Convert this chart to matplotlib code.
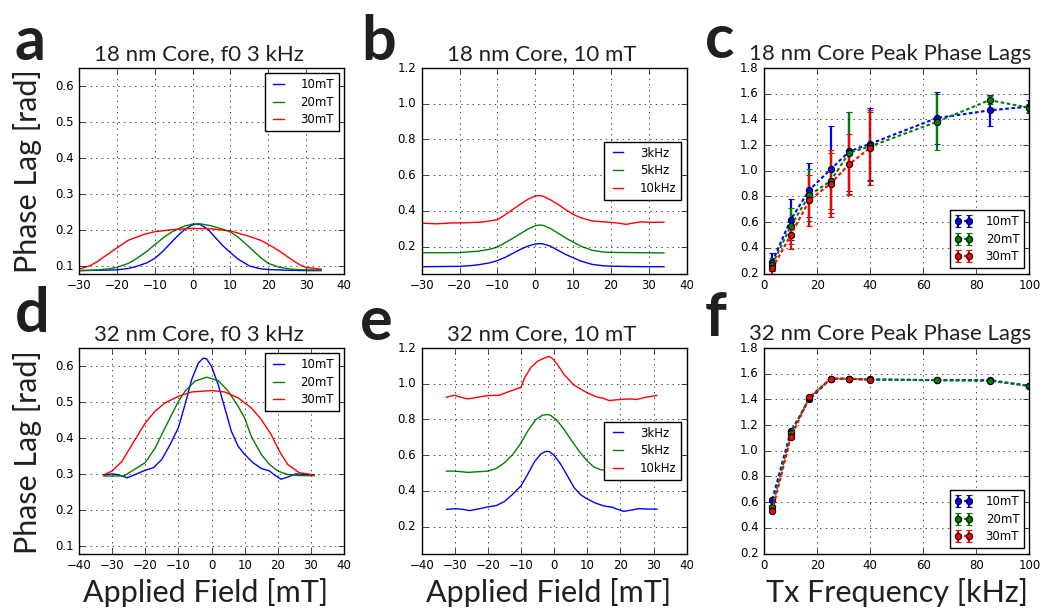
import numpy as np
import matplotlib
matplotlib.use('Agg')
import matplotlib.pyplot as plt

plt.style.use('classic')
plt.rcParams['font.size'] = 8.5
plt.rcParams['figure.facecolor'] = 'white'
plt.rcParams['savefig.facecolor'] = 'white'

LABEL_FONT = 'Lato'
INK = '#231f20'

# ---- 18 nm core, field sweeps ----
field_18_10mT = [-30, -25, -20, -17, -15, -12, -10, -8, -6, -4, -2, 0, 1, 2, 4, 6, 8, 10, 12, 15, 18, 20, 25, 30, 34]
lag_18_10mT = [0.088, 0.089, 0.090, 0.094, 0.099, 0.110, 0.122, 0.140, 0.162, 0.184, 0.203, 0.215, 0.217, 0.216,
               0.203, 0.180, 0.157, 0.138, 0.120, 0.101, 0.093, 0.091, 0.089, 0.088, 0.088]

field_18_20mT = [-30, -25, -22, -20, -17, -15, -12, -10, -7, -5, -2, 0, 2, 5, 8, 10, 12, 15, 18, 20, 23, 26, 30, 34]
lag_18_20mT = [0.088, 0.090, 0.093, 0.097, 0.108, 0.120, 0.142, 0.160, 0.185, 0.198, 0.212, 0.217, 0.218, 0.212,
               0.203, 0.195, 0.181, 0.153, 0.124, 0.108, 0.097, 0.092, 0.090, 0.090]

field_18_30mT = [-30, -27, -25, -23, -20, -17, -13, -10, -5, 0, 5, 10, 15, 18, 20, 23, 25, 28, 30, 34]
lag_18_30mT = [0.092, 0.102, 0.114, 0.129, 0.151, 0.172, 0.188, 0.196, 0.202, 0.205, 0.204, 0.198, 0.183, 0.172,
               0.161, 0.142, 0.127, 0.106, 0.097, 0.092]

field_18_5k = [-30, -20, -15, -12, -10, -8, -6, -4, -2, 0, 1, 2, 4, 6, 8, 10, 12, 15, 18, 20, 25, 34]
lag_18_5k = [0.166, 0.167, 0.175, 0.186, 0.198, 0.222, 0.246, 0.272, 0.298, 0.317, 0.321, 0.320, 0.302, 0.276,
             0.249, 0.226, 0.203, 0.180, 0.170, 0.168, 0.167, 0.165]

field_18_10k = [-30, -26, -22, -18, -14, -10, -8, -6, -4, -2, 0, 1, 2, 4, 6, 8, 10, 12, 15, 20, 22, 24, 26, 28, 31, 34]
lag_18_10k = [0.332, 0.328, 0.333, 0.334, 0.338, 0.351, 0.378, 0.408, 0.437, 0.465, 0.484, 0.486, 0.483, 0.462,
              0.437, 0.408, 0.381, 0.362, 0.344, 0.336, 0.332, 0.325, 0.333, 0.339, 0.336, 0.337]

# ---- 32 nm core, field sweeps ----
field_32_10mT = [-32.5, -30, -28, -25.5, -23, -20, -17.5, -15, -12.5, -10, -8, -6, -4, -2.5, -1.5, 0, 2, 4, 6, 8,
                 10, 12.5, 15, 17.5, 19, 21, 23, 25.5, 28, 31]
lag_32_10mT = [0.297, 0.301, 0.298, 0.290, 0.299, 0.311, 0.318, 0.341, 0.382, 0.429, 0.493, 0.562, 0.608, 0.622,
               0.620, 0.599, 0.549, 0.484, 0.419, 0.378, 0.355, 0.332, 0.316, 0.309, 0.298, 0.286, 0.292, 0.301,
               0.299, 0.298]

field_32_20mT = [-32.5, -30, -26.5, -24, -20, -17, -14, -10, -8, -5, -1.5, 2, 5, 8, 10, 12, 15, 17.5, 20, 23, 26.5, 31]
lag_32_20mT = [0.295, 0.295, 0.295, 0.309, 0.332, 0.373, 0.429, 0.502, 0.530, 0.558, 0.569, 0.560, 0.531, 0.489,
               0.456, 0.405, 0.355, 0.327, 0.309, 0.299, 0.296, 0.296]

field_32_30mT = [-32.5, -30, -27, -24, -20, -17, -14, -10, -6, 0, 4, 8, 12, 15, 18, 20.5, 23, 26.5, 31]
lag_32_30mT = [0.298, 0.309, 0.336, 0.382, 0.442, 0.475, 0.498, 0.516, 0.528, 0.532, 0.528, 0.512, 0.484, 0.452,
               0.410, 0.364, 0.327, 0.304, 0.298]

field_32_5k = [-32.5, -30, -26, -20, -17.5, -15, -12.5, -10, -8, -5.5, -3.5, -2, -1, 1, 3, 5, 7.5, 10, 12, 14, 17,
               20, 25, 31]
lag_32_5k = [0.511, 0.511, 0.504, 0.511, 0.526, 0.558, 0.604, 0.670, 0.735, 0.800, 0.824, 0.828, 0.822, 0.791,
             0.744, 0.688, 0.623, 0.567, 0.534, 0.519, 0.512, 0.510, 0.510, 0.515]

field_32_10k = [-32.5, -30, -28.5, -26, -23, -20, -16.5, -14, -12, -10, -9, -7, -5, -3, -1.5, -0.5, 1, 3, 6, 10,
                13, 14.5, 16.5, 20, 23, 25, 28, 31]
lag_32_10k = [0.925, 0.936, 0.926, 0.915, 0.925, 0.934, 0.936, 0.954, 0.967, 0.980, 1.032, 1.092, 1.126, 1.144,
              1.153, 1.140, 1.107, 1.051, 0.992, 0.949, 0.925, 0.921, 0.906, 0.912, 0.915, 0.912, 0.926, 0.934]

# ---- peak phase lag vs drive frequency ----
freq = [3, 10, 17, 25, 32, 40, 65, 85, 100]

peak18_10mT = [0.29, 0.62, 0.85, 1.01, 1.15, 1.21, 1.41, 1.47, 1.50]
err18_10mT = [0.07, 0.16, 0.21, 0.34, 0.31, 0.28, 0.20, 0.12, 0.05]
peak18_20mT = [0.27, 0.57, 0.81, 0.92, 1.14, 1.19, 1.38, 1.55, 1.49]
err18_20mT = [0.05, 0.14, 0.20, 0.22, 0.32, 0.27, 0.22, 0.03, 0.03]
peak18_30mT = [0.24, 0.50, 0.77, 0.90, 1.05, 1.18]
err18_30mT = [0.04, 0.11, 0.20, 0.26, 0.24, 0.29]

peak32_10mT = [0.62, 1.15, 1.40, 1.56, 1.56, 1.555, 1.55, 1.55, 1.505]
err32_10mT = [0.01, 0.01, 0.01, 0.005, 0.005, 0.005, 0.005, 0.005, 0.005]
peak32_20mT = [0.565, 1.135, 1.41, 1.56, 1.56, 1.555, 1.549, 1.544, 1.505]
err32_20mT = [0.01, 0.01, 0.01, 0.005, 0.005, 0.005, 0.005, 0.005, 0.005]
peak32_30mT = [0.532, 1.106, 1.415, 1.562, 1.562, 1.551]
err32_30mT = [0.01, 0.01, 0.01, 0.005, 0.005, 0.005]

amp_labels = ['10mT', '20mT', '30mT']
freq_labels = ['3kHz', '5kHz', '10kHz']
colors = ['b', 'g', 'r']


def sweep_panel(ax, curves, labels, xlim, ylim, yticks, loc):
    for (x, y), lab, c in zip(curves, labels, colors):
        ax.plot(x, y, color=c, lw=1.0, label=lab)
    ax.set_xlim(*xlim)
    ax.set_ylim(*ylim)
    ax.set_yticks(yticks)
    ax.grid(True)
    ax.legend(loc=loc, fontsize=8.5, handlelength=1.5, handletextpad=1.1,
              labelspacing=0.4, borderaxespad=0.45)


def peak_panel(ax, series):
    for (y, e), lab, c in zip(series, amp_labels, colors):
        cont = ax.errorbar(freq[:len(y)], y, yerr=e, fmt='--o', color=c, mec='k', mew=0.8,
                           ms=4.5, lw=1.5, elinewidth=1.6, capsize=2, label=lab)
        cont[0].set_dashes((2.6, 1.8))
    ax.set_xlim(0, 100)
    ax.set_ylim(0.2, 1.8)
    ax.set_yticks(np.arange(0.2, 1.81, 0.2))
    ax.grid(True)
    ax.legend(loc='lower right', fontsize=8.5, numpoints=2, handlelength=1.5,
              handletextpad=1.1, labelspacing=0.4, borderaxespad=0.45)


fig = plt.figure(figsize=(10.42, 6.12), dpi=100)
W, H = 1042.0, 612.0
lefts = [79, 421.7, 764.3]
tops = [68, 348]
aw, ah = 265, 205.5
axs = [[fig.add_axes([l / W, 1 - (t + ah) / H, aw / W, ah / H]) for l in lefts] for t in tops]

sweep_panel(axs[0][0], [(field_18_10mT, lag_18_10mT), (field_18_20mT, lag_18_20mT),
                        (field_18_30mT, lag_18_30mT)], amp_labels, (-30, 40), (0.08, 0.65),
            np.arange(0.1, 0.61, 0.1), 'upper right')
sweep_panel(axs[0][1], [(field_18_10mT, lag_18_10mT), (field_18_5k, lag_18_5k),
                        (field_18_10k, lag_18_10k)], freq_labels, (-30, 40), (0.05, 1.2),
            np.arange(0.2, 1.21, 0.2), 'center right')
peak_panel(axs[0][2], [(peak18_10mT, err18_10mT), (peak18_20mT, err18_20mT), (peak18_30mT, err18_30mT)])

sweep_panel(axs[1][0], [(field_32_10mT, lag_32_10mT), (field_32_20mT, lag_32_20mT),
                        (field_32_30mT, lag_32_30mT)], amp_labels, (-40, 40), (0.08, 0.65),
            np.arange(0.1, 0.61, 0.1), 'upper right')
sweep_panel(axs[1][1], [(field_32_10mT, lag_32_10mT), (field_32_5k, lag_32_5k),
                        (field_32_10k, lag_32_10k)], freq_labels, (-40, 40), (0.05, 1.2),
            np.arange(0.2, 1.21, 0.2), 'center right')
peak_panel(axs[1][2], [(peak32_10mT, err32_10mT), (peak32_20mT, err32_20mT), (peak32_30mT, err32_30mT)])

titles = [['18 nm Core, f0 3 kHz', '18 nm Core, 10 mT', '18 nm Core Peak Phase Lags'],
          ['32 nm Core, f0 3 kHz', '32 nm Core, 10 mT', '32 nm Core Peak Phase Lags']]
title_x = [0.453, 0.453, 0.474]
for r in range(2):
    for c in range(3):
        axs[r][c].set_title(titles[r][c], x=title_x[c], fontsize=16, family=LABEL_FONT,
                            color=INK, pad=6)

# panel letters
letters = [('a', 15, 60), ('b', 361, 60), ('c', 705, 58), ('d', 15, 332), ('e', 360, 340), ('f', 705, 336)]
for s, x, y in letters:
    fig.text(x / W, 1 - y / H, s, fontsize=44, family=LABEL_FONT, weight='bold',
             color=INK, ha='left', va='baseline')

for yc in (171, 452):
    fig.text(28 / W, 1 - yc / H, 'Phase Lag [rad]', rotation=90, fontsize=22,
             family=LABEL_FONT, color=INK, ha='center', va='center')
for xc, s in ((206, 'Applied Field [mT]'), (549, 'Applied Field [mT]'), (897, 'Tx Frequency [kHz]')):
    fig.text(xc / W, 1 - 602 / H, s, fontsize=22, family=LABEL_FONT, color=INK,
             ha='center', va='baseline')

fig.savefig('out.png', dpi=100)
